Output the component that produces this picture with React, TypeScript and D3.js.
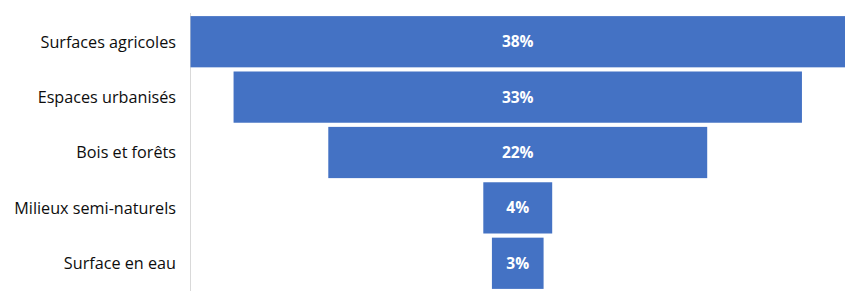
import React from "react";
import * as d3 from "d3";

const categories = ["Surfaces agricoles", "Espaces urbanisés", "Bois et forêts", "Milieux semi-naturels", "Surface en eau"];
const values = [38, 33, 22, 4, 3];
const valueLabels = ["38%", "33%", "22%", "4%", "3%"];

const W = 859;
const H = 305;
const axisX = 190.5;
const plotRight = 845;

export default function App() {
  const y = d3.scaleBand<string>().domain(categories).range([15, 290]).paddingInner(0.075).paddingOuter(0.02);
  const center = (axisX + plotRight) / 2;
  const half = d3.scaleLinear().domain([0, d3.max(values)!]).range([0, (plotRight - axisX) / 2]);
  return (
    <svg width={W} height={H} style={{ position: "fixed", left: 0, top: 0, background: "#fff" }}>
      <line x1={axisX} x2={axisX} y1={13} y2={291} stroke="#d9d9d9" strokeWidth={1} />
      {categories.map((c, i) => {
        const v = values[i];
        const hw = half(v);
        const by = y(c)!;
        const bh = y.bandwidth();
        return (
          <g key={c}>
            <rect x={center - hw} y={by} width={hw * 2} height={bh} fill="#4472C4" />
            <text x={center} y={by + bh / 2} dy="0.36em" textAnchor="middle" fill="#fff" fontWeight="bold" fontSize={15.5} fontFamily="'Open Sans', sans-serif">
              {valueLabels[i]}
            </text>
            <text x={176} y={by + bh / 2} dy="0.36em" textAnchor="end" fill="#0d0d0d" fontSize={16.2} fontFamily="'Open Sans', sans-serif">
              {c}
            </text>
          </g>
        );
      })}
    </svg>
  );
}
